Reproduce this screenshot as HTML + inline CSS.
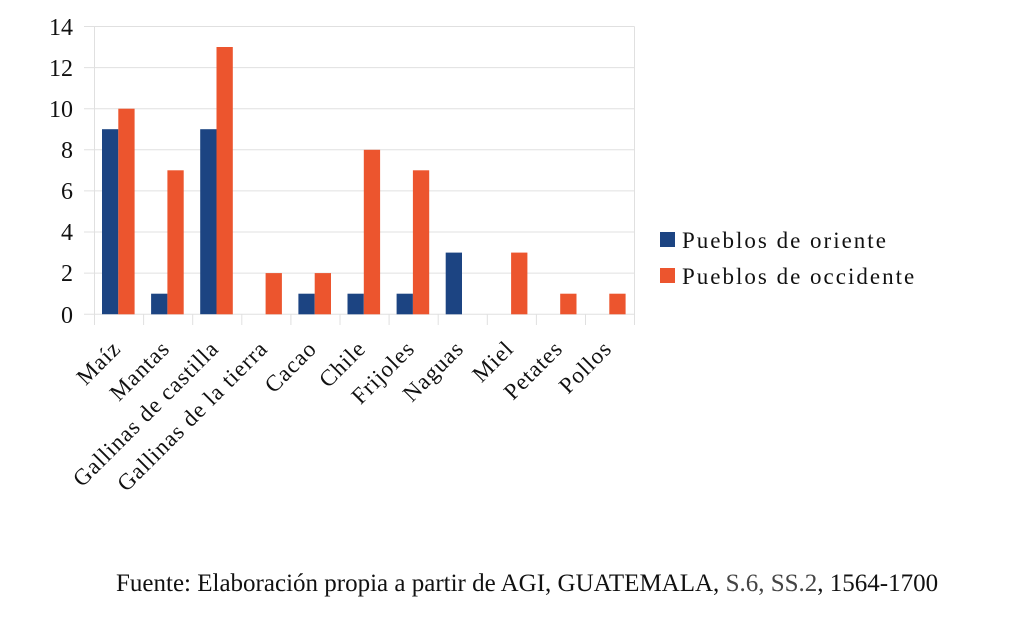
<!DOCTYPE html>
<html><head><meta charset="utf-8"><style>
body{margin:0;background:#fff;}
svg{display:block;font-family:"Liberation Serif",serif;}
</style></head><body>
<svg width="1024" height="628" viewBox="0 0 1024 628">
<g stroke="#e0e0e0" stroke-width="1">
<line x1="84" y1="26.5" x2="634.5" y2="26.5"/>
<line x1="84" y1="67.6" x2="634.5" y2="67.6"/>
<line x1="84" y1="108.7" x2="634.5" y2="108.7"/>
<line x1="84" y1="149.8" x2="634.5" y2="149.8"/>
<line x1="84" y1="190.9" x2="634.5" y2="190.9"/>
<line x1="84" y1="232" x2="634.5" y2="232"/>
<line x1="84" y1="273.1" x2="634.5" y2="273.1"/>
<line x1="84" y1="314.3" x2="634.5" y2="314.3"/>
<line x1="94.5" y1="26.5" x2="94.5" y2="325"/>
<line x1="634.5" y1="26.5" x2="634.5" y2="325"/>
<line x1="143.6" y1="314" x2="143.6" y2="325"/>
<line x1="192.7" y1="314" x2="192.7" y2="325"/>
<line x1="241.8" y1="314" x2="241.8" y2="325"/>
<line x1="290.9" y1="314" x2="290.9" y2="325"/>
<line x1="340" y1="314" x2="340" y2="325"/>
<line x1="389.1" y1="314" x2="389.1" y2="325"/>
<line x1="438.2" y1="314" x2="438.2" y2="325"/>
<line x1="487.3" y1="314" x2="487.3" y2="325"/>
<line x1="536.4" y1="314" x2="536.4" y2="325"/>
<line x1="585.5" y1="314" x2="585.5" y2="325"/>
</g>
<g font-size="24" fill="#111" text-anchor="end">
<text x="73" y="35">14</text><text x="73" y="76">12</text><text x="73" y="117">10</text>
<text x="73" y="158">8</text><text x="73" y="199">6</text><text x="73" y="240">4</text>
<text x="73" y="281">2</text><text x="73" y="323">0</text>
</g>
<g fill="#1c4482">
<rect x="102" y="129.2" width="16.3" height="185"/>
<rect x="151.1" y="293.7" width="16.3" height="20.6"/>
<rect x="200.2" y="129.2" width="16.3" height="185"/>
<rect x="298.4" y="293.7" width="16.3" height="20.6"/>
<rect x="347.5" y="293.7" width="16.3" height="20.6"/>
<rect x="396.6" y="293.7" width="16.3" height="20.6"/>
<rect x="445.7" y="252.6" width="16.3" height="61.7"/>
</g>
<g fill="#ec552e">
<rect x="118.3" y="108.7" width="16.3" height="205.6"/>
<rect x="167.4" y="170.3" width="16.3" height="144"/>
<rect x="216.5" y="47" width="16.3" height="267.3"/>
<rect x="265.6" y="273.1" width="16.3" height="41.2"/>
<rect x="314.7" y="273.1" width="16.3" height="41.2"/>
<rect x="363.8" y="149.8" width="16.3" height="164.5"/>
<rect x="412.9" y="170.3" width="16.3" height="144"/>
<rect x="511.1" y="252.6" width="16.3" height="61.7"/>
<rect x="560.2" y="293.7" width="16.3" height="20.6"/>
<rect x="609.3" y="293.7" width="16.3" height="20.6"/>
</g>
<g font-size="23" fill="#111" text-anchor="end" letter-spacing="1">
<text transform="translate(122,350) rotate(-45)">Maíz</text>
<text transform="translate(171,350) rotate(-45)">Mantas</text>
<text transform="translate(220,350) rotate(-45)">Gallinas de castilla</text>
<text transform="translate(269,350) rotate(-45)">Gallinas de la tierra</text>
<text transform="translate(318,350) rotate(-45)">Cacao</text>
<text transform="translate(367,350) rotate(-45)">Chile</text>
<text transform="translate(416,350) rotate(-45)">Frijoles</text>
<text transform="translate(465,350) rotate(-45)">Naguas</text>
<text transform="translate(515,350) rotate(-45)">Miel</text>
<text transform="translate(564,350) rotate(-45)">Petates</text>
<text transform="translate(613,350) rotate(-45)">Pollos</text>
</g>
<rect x="660" y="232" width="15" height="15" fill="#1c4482"/>
<rect x="660" y="268" width="15" height="15" fill="#ec552e"/>
<g font-size="23" fill="#111" letter-spacing="2">
<text x="682" y="248">Pueblos de oriente</text>
<text x="682" y="284">Pueblos de occidente</text>
</g>
<text x="116" y="591" font-size="25" fill="#111">Fuente: Elaboración propia a partir de AGI, GUATEMALA, <tspan fill="#444">S.6, SS.2</tspan>, 1564-1700</text>
</svg>
</body></html>
